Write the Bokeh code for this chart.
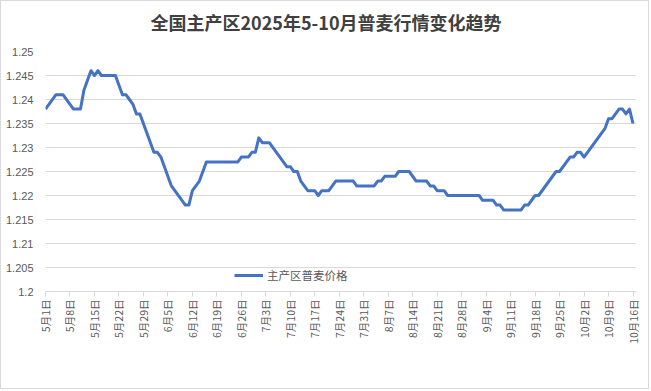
import math
from bokeh.plotting import figure
from bokeh.models import (FixedTicker, Legend, LegendItem, CustomJSTickFormatter,
                          Range1d, Title)
from bokeh.embed import file_html
from bokeh.resources import INLINE

# ---- data -------------------------------------------------------------
title_text = "全国主产区2025年5-10月普麦行情变化趋势"
series_name = "主产区普麦价格"

# day offsets from 2025-05-01 and price (元/斤)
days = [0, 3, 5, 8, 10, 11, 13, 14, 15, 16, 20, 22, 23, 24, 25, 26, 27, 31, 32, 33,
        36, 40, 41, 42, 43, 44, 46, 55, 56, 58, 59, 60, 61, 62, 64, 69, 70, 71, 72, 73,
        75, 77, 78, 79, 81, 83, 88, 89, 94, 95, 96, 97, 100, 101, 104, 106, 109, 110,
        111, 112, 114, 115, 124, 125, 128, 129, 130, 131, 136, 137, 138, 140, 141, 146,
        147, 150, 151, 152, 153, 154, 160, 161, 162, 164, 165, 166, 167, 168]
prices = [1.238, 1.241, 1.241, 1.238, 1.238, 1.242, 1.246, 1.245, 1.246, 1.245, 1.245,
          1.241, 1.241, 1.240, 1.239, 1.237, 1.237, 1.229, 1.229, 1.228,
          1.222, 1.218, 1.218, 1.221, 1.222, 1.223, 1.227, 1.227, 1.228, 1.228, 1.229,
          1.229, 1.232, 1.231, 1.231, 1.226, 1.226, 1.225, 1.225, 1.223,
          1.221, 1.221, 1.220, 1.221, 1.221, 1.223, 1.223, 1.222, 1.222, 1.223, 1.223,
          1.224, 1.224, 1.225, 1.225, 1.223, 1.223, 1.222,
          1.222, 1.221, 1.221, 1.220, 1.220, 1.219, 1.219, 1.218, 1.218, 1.217, 1.217,
          1.218, 1.218, 1.220, 1.220, 1.225,
          1.225, 1.228, 1.228, 1.229, 1.229, 1.228, 1.234, 1.236, 1.236, 1.238, 1.238,
          1.237, 1.238, 1.235]

tick_days = [0, 7, 14, 21, 28, 35, 42, 49, 56, 63, 70, 77, 84, 91, 98, 105, 112, 119,
             126, 133, 140, 147, 154, 161, 168]
tick_labels = ["5月1日", "5月8日", "5月15日", "5月22日", "5月29日", "6月5日", "6月12日",
               "6月19日", "6月26日", "7月3日", "7月10日", "7月17日", "7月24日", "7月31日",
               "8月7日", "8月14日", "8月21日", "8月28日", "9月4日", "9月11日", "9月18日",
               "9月25日", "10月2日", "10月9日", "10月16日"]
y_ticks = [1.2, 1.205, 1.21, 1.215, 1.22, 1.225, 1.23, 1.235, 1.24, 1.245, 1.25]

# ---- figure -----------------------------------------------------------
CJK = "Noto Sans CJK SC"
GRAY = "#595959"
GRID = "#D9D9D9"

p = figure(width=649, height=389, output_backend="svg", toolbar_location=None,
           x_range=Range1d(0, 169), y_range=Range1d(1.2, 1.25),
           min_border_left=44, min_border_right=14, min_border_top=50,
           min_border_bottom=99)
p.styles = {"border": "1px solid #D9D9D9"}
p.background_fill_color = "white"
p.border_fill_color = "white"
p.outline_line_color = None

r = p.line(days, prices, line_color="#4472C4", line_width=3, line_join="round")

# title
p.title.text = title_text
p.title.align = "left"
p.title.offset = 105
p.title.standoff = 10
p.title.text_font = CJK
p.title.text_font_style = "bold"
p.title.text_font_size = "18px"
p.title.text_color = "#404040"

# blank spacer between title and frame
p.add_layout(Title(text=" ", text_font_size="9px", standoff=0), "above")

# x axis
xa = p.xaxis[0]
xa.ticker = FixedTicker(ticks=tick_days)
xa.major_label_overrides = {d: l for d, l in zip(tick_days, tick_labels)}
xa.major_label_orientation = math.pi / 2
xa.axis_line_color = GRID
xa.major_tick_line_color = GRID
xa.major_tick_in = 0
xa.major_tick_out = 5
xa.minor_tick_line_color = None
xa.major_label_standoff = 3
xa.major_label_text_font = CJK
xa.major_label_text_font_size = "10.5px"
xa.major_label_text_color = GRAY

# y axis
ya = p.yaxis[0]
ya.ticker = FixedTicker(ticks=y_ticks)
ya.formatter = CustomJSTickFormatter(code="return tick.toFixed(3).replace(/0+$/, '')")
ya.axis_line_color = None
ya.major_tick_line_color = None
ya.minor_tick_line_color = None
ya.major_label_standoff = 6
ya.major_label_text_font = "Liberation Sans"
ya.major_label_text_font_size = "11px"
ya.major_label_text_color = GRAY

p.xgrid.visible = False
p.ygrid.grid_line_color = GRID
p.ygrid.grid_line_width = 1

legend = Legend(items=[LegendItem(label=series_name, renderers=[r])],
                location=(189, 8), orientation="horizontal",
                border_line_color=None, background_fill_alpha=0,
                padding=0, margin=0, spacing=0, glyph_width=29, glyph_height=12,
                label_height=12, label_standoff=4, label_text_font=CJK,
                label_text_font_size="11.5px", label_text_color=GRAY)
p.add_layout(legend)

open("out.html", "w").write(file_html(p, INLINE))
